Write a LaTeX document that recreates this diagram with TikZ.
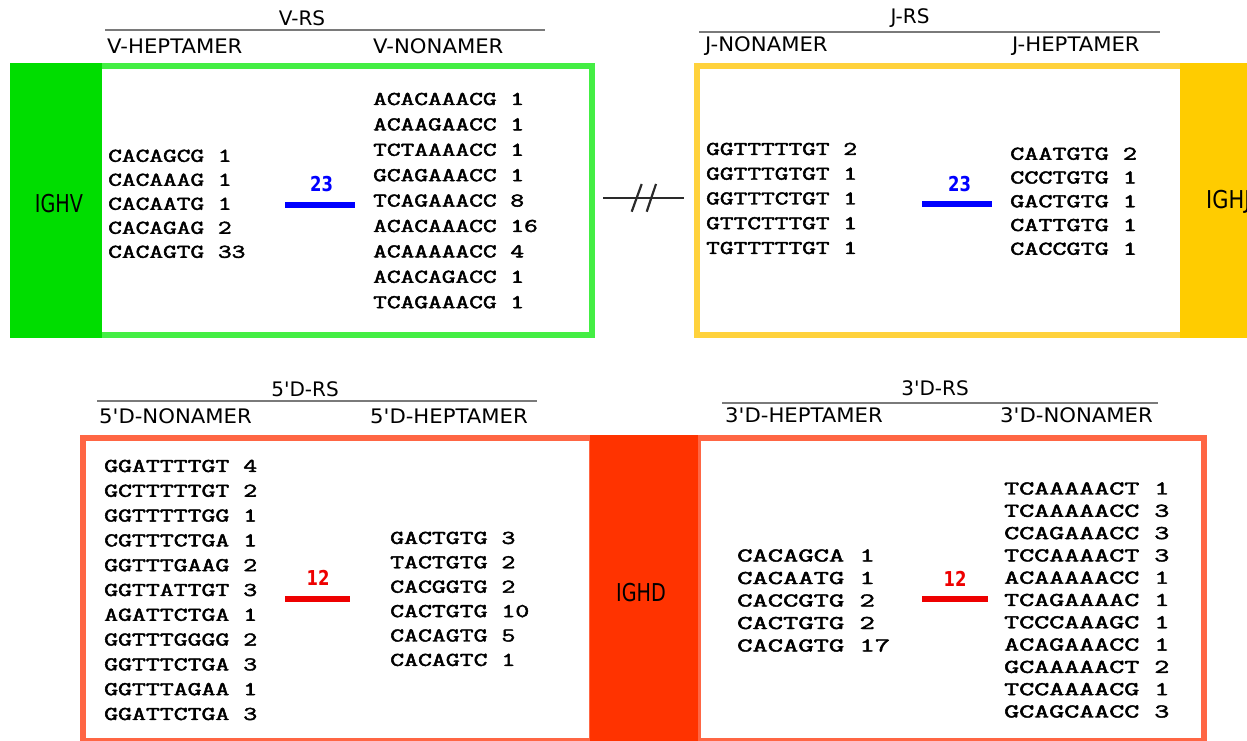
\documentclass[tikz,border=0pt]{standalone}
\usepackage{fontspec}
\usepackage{graphicx}
\setmainfont{DejaVu Sans}
\newfontfamily\seqfont{Latin Modern Mono}[FakeBold=2]
\definecolor{gborder}{HTML}{44EE44}
\definecolor{gfill}{HTML}{00DD00}
\definecolor{yborder}{HTML}{FFD23C}
\definecolor{yfill}{HTML}{FFCC00}
\definecolor{rborder}{HTML}{FF6644}
\definecolor{rfill}{HTML}{FF3300}
\definecolor{hline}{HTML}{7A7A7A}
\definecolor{seqblue}{HTML}{0000FF}
\definecolor{seqred}{HTML}{EE0000}
\definecolor{brkgray}{HTML}{2A2A2A}
\newcommand{\seqtab}[4]{\scalebox{#1}[1]{\fontsize{#2}{#3}\selectfont\seqfont\begin{tabular}{@{}l@{}}#4\end{tabular}}}
\newcommand{\hd}[1]{\scalebox{1.06}[1]{#1}}
\tikzset{
  regbox/.style={draw=#1, line width=6pt, fill=white, inner sep=0pt},
  hdr/.style={font=\fontsize{20}{24}\selectfont, inner sep=0pt, anchor=west},
  rslabel/.style={font=\fontsize{20}{24}\selectfont, inner sep=0pt},
  rsline/.style={draw=hline, line width=2.5pt},
  seqnode/.style={inner sep=0pt, anchor=west},
  gene/.style={inner sep=0pt, font=\fontsize{24.6}{28}\selectfont},
  spacer/.style={inner sep=0pt, font=\fontsize{20.5}{24}\selectfont\bfseries, text=#1},
  spacerbar/.style={draw=#1, line width=6pt},
  brk/.style={draw=brkgray, line width=2.5pt}
}
\begin{document}
\begin{tikzpicture}[x=1pt,y=-1pt]
\useasboundingbox (0,0) rectangle (1247,741);
\clip (0,0) rectangle (1247,741);

% ---------- top left: IGHV ----------
\node[regbox=gborder, minimum width=579pt, minimum height=269pt] (vbox) at (302.5,200.5) {};
\fill[gfill] (10,63) rectangle (102,338);
\node[gene] (ighv) at (59,204) {\scalebox{0.78}[1]{IGHV}};
\node[rslabel] (vrs) at (302,18) {V-RS};
\draw[rsline] (105,30) -- (545,30);
\node[hdr] (vhepth) at (107,46) {\hd{V-HEPTAMER}};
\node[hdr] (vnonh) at (373,46) {\hd{V-NONAMER}};
\node[seqnode] (vhept) at (108,205) {\seqtab{1.366}{19.5}{24}{CACAGCG 1\\CACAAAG 1\\CACAATG 1\\CACAGAG 2\\CACAGTG 33}};
\node[spacer=seqblue] (v23) at (321.5,184) {\scalebox{0.8}[1]{23}};
\draw[spacerbar=seqblue] (285,204.6) -- (355,204.6);
\node[seqnode] (vnon) at (373,201.5) {\seqtab{1.366}{19.5}{25.4}{ACACAAACG 1\\ACAAGAACC 1\\TCTAAAACC 1\\GCAGAAACC 1\\TCAGAAACC 8\\ACACAAACC 16\\ACAAAAACC 4\\ACACAGACC 1\\TCAGAAACG 1}};

% ---------- top right: IGHJ ----------
\node[regbox=yborder, minimum width=488pt, minimum height=269pt] (jbox) at (941,200.5) {};
\fill[yfill] (1180,63) rectangle (1250,338);
\node[gene, anchor=west] (ighj) at (1206,202) {\scalebox{0.85}[1]{IGHJ}};
\node[rslabel] (jrs) at (910,18) {J-RS};
\draw[rsline] (699,32) -- (1160,32);
\node[hdr] (jnonh) at (705,46) {\hd{J-NONAMER}};
\node[hdr] (jhepth) at (1012,46) {\hd{J-HEPTAMER}};
\node[seqnode] (jnon) at (706,199.5) {\seqtab{1.366}{19.5}{24.75}{GGTTTTTGT 2\\GGTTTGTGT 1\\GGTTTCTGT 1\\GTTCTTTGT 1\\TGTTTTTGT 1}};
\node[spacer=seqblue] (j23) at (959.5,184) {\scalebox{0.8}[1]{23}};
\draw[spacerbar=seqblue] (922,204) -- (992,204);
\node[seqnode] (jhept) at (1010,202.5) {\seqtab{1.403}{19.5}{23.75}{CAATGTG 2\\CCCTGTG 1\\GACTGTG 1\\CATTGTG 1\\CACCGTG 1}};

% ---------- break between V and J ----------
\draw[brk, shorten <=8pt, shorten >=10pt] ([yshift=2.3pt]vbox.east) -- ([yshift=2.3pt]jbox.west);
\draw[brk, line width=2.2pt] (631.7,211.7) -- (641.7,184);
\draw[brk, line width=2.2pt] (646.7,211.7) -- (656,184);

% ---------- bottom: IGHD ----------
\node[regbox=rborder, minimum width=509pt, minimum height=303pt] (d5box) at (337.5,589.5) {};
\node[regbox=rborder, minimum width=506pt, minimum height=303pt] (d3box) at (951,589.5) {};
\fill[rfill] (590,435) rectangle (698,745);
\node[gene] (ighd) at (641,593) {\scalebox{0.78}[1]{IGHD}};

\node[rslabel] (d5rs) at (305,389) {5\textquotesingle D-RS};
\draw[rsline] (97,401) -- (537,401);
\node[hdr] (d5nonh) at (99,416) {\hd{5\textquotesingle D-NONAMER}};
\node[hdr] (d5hepth) at (370,416) {\hd{5\textquotesingle D-HEPTAMER}};
\node[seqnode] (d5non) at (104,591) {\seqtab{1.385}{19.5}{24.8}{GGATTTTGT 4\\GCTTTTTGT 2\\GGTTTTTGG 1\\CGTTTCTGA 1\\GGTTTGAAG 2\\GGTTATTGT 3\\AGATTCTGA 1\\GGTTTGGGG 2\\GGTTTCTGA 3\\GGTTTAGAA 1\\GGATTCTGA 3}};
\node[spacer=seqred] (d512) at (318,578) {\scalebox{0.8}[1]{12}};
\draw[spacerbar=seqred] (285,599) -- (350,599);
\node[seqnode] (d5hept) at (390,600) {\seqtab{1.385}{19.5}{24.4}{GACTGTG 3\\TACTGTG 2\\CACGGTG 2\\CACTGTG 10\\CACAGTG 5\\CACAGTC 1}};

\node[rslabel] (d3rs) at (935,388) {3\textquotesingle D-RS};
\draw[rsline] (722,403) -- (1158,403);
\node[hdr] (d3hepth) at (725,415) {\hd{3\textquotesingle D-HEPTAMER}};
\node[hdr] (d3nonh) at (1000,415) {\hd{3\textquotesingle D-NONAMER}};
\node[seqnode] (d3hept) at (737,602) {\seqtab{1.523}{19.5}{22.5}{CACAGCA 1\\CACAATG 1\\CACCGTG 2\\CACTGTG 2\\CACAGTG 17}};
\node[spacer=seqred] (d312) at (955,579) {\scalebox{0.8}[1]{12}};
\draw[spacerbar=seqred] (922,599) -- (988,599);
\node[seqnode] (d3non) at (1004,601.5) {\seqtab{1.495}{19.5}{22.3}{TCAAAAACT 1\\TCAAAAACC 3\\CCAGAAACC 3\\TCCAAAACT 3\\ACAAAAACC 1\\TCAGAAAAC 1\\TCCCAAAGC 1\\ACAGAAACC 1\\GCAAAAACT 2\\TCCAAAACG 1\\GCAGCAACC 3}};
\end{tikzpicture}
\end{document}
